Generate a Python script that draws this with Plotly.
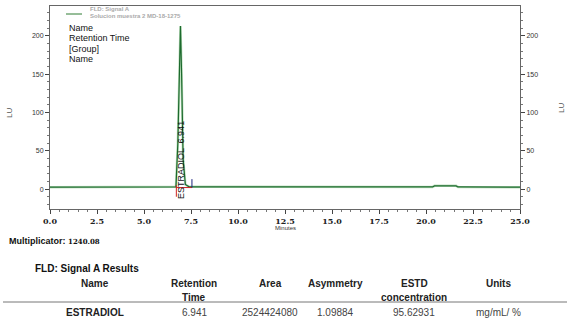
import plotly.graph_objects as go

# ---- data ----
time_min = [0.0, 6.60, 6.70, 6.80, 6.88, 6.94, 7.00, 7.08, 7.20, 7.40, 20.35, 20.45, 21.60, 21.70, 25.0]
signal_lu = [2.5, 2.5, 3.0, 60.0, 170.0, 213.0, 150.0, 40.0, 6.0, 3.0, 2.8, 4.2, 4.2, 2.8, 2.5]
peak_name = "ESTRADIOL"
peak_rt = 6.941
baseline_start, baseline_end = 6.72, 7.55
x_ticks = [0, 2.5, 5, 7.5, 10, 12.5, 15, 17.5, 20, 22.5, 25]
x_ticklabels = ["0.0", "2.5", "5.0", "7.5", "10.0", "12.5", "15.0", "17.5", "20.0", "22.5", "25.0"]
y_ticks = [0, 50, 100, 150, 200]
table_headers = [["Name"], ["Retention", "Time"], ["Area"], ["Asymmetry"], ["ESTD", "concentration"], ["Units"]]
table_row = ["ESTRADIOL", "6.941", "2524424080", "1.09884", "95.62931", "mg/mL/ %"]
multiplicator = "1240.08"

W, H = 570, 324
L, R, T, B = 50, 520, 6, 209

def px(x):
    return (x - L) / (R - L)

def py(y):
    return (B - y) / (B - T)

fig = go.Figure()
# light halo of the peak
fig.add_trace(go.Scatter(x=time_min, y=signal_lu, mode="lines",
                         line=dict(color="#bfe0bf", width=2.5), hoverinfo="skip", showlegend=False))
fig.add_trace(go.Scatter(x=time_min, y=signal_lu, mode="lines",
                         line=dict(color="#1d6a2e", width=1.2), showlegend=False))
# integration baseline & markers
fig.add_trace(go.Scatter(x=[baseline_start, baseline_end], y=[2.0, 2.0], mode="lines",
                         line=dict(color="#cc2222", width=1), showlegend=False))
fig.add_trace(go.Scatter(x=[baseline_start, baseline_start], y=[-10, 5], mode="lines",
                         line=dict(color="#cc2222", width=1), showlegend=False))
fig.add_trace(go.Scatter(x=[baseline_end, baseline_end], y=[2, 13], mode="lines",
                         line=dict(color="#1a237e", width=1), showlegend=False))
# right axis carrier
fig.add_trace(go.Scatter(x=[0], y=[0], yaxis="y2", mode="markers",
                         marker=dict(opacity=0), hoverinfo="skip", showlegend=False))

yr = [-26, 239]
axis_common = dict(range=yr, tickvals=y_ticks, ticks="outside", ticklen=4, tickcolor="#444",
                   tickfont=dict(family="Liberation Sans", size=7, color="#333"),
                   showgrid=False, zeroline=False,
                   minor=dict(dtick=10, ticks="outside", ticklen=2, tickcolor="#777"))

fig.update_layout(
    width=W, height=H, margin=dict(l=L, r=W - R, t=T, b=H - B),
    paper_bgcolor="white", plot_bgcolor="white",
    xaxis=dict(range=[0, 25], tickvals=x_ticks, ticktext=[f"<b>{t}</b>" for t in x_ticklabels],
               ticks="outside", ticklen=4, tickcolor="#444", showgrid=False, zeroline=False,
               showline=True, linecolor="#666", linewidth=1, mirror=True,
               tickfont=dict(family="DejaVu Serif", size=8, color="#222"),
               minor=dict(dtick=0.5, ticks="outside", ticklen=2, tickcolor="#777")),
    yaxis=dict(**axis_common, showline=True, linecolor="#666", linewidth=1, mirror=True),
    yaxis2=dict(**axis_common, overlaying="y", side="right", showline=False),
)

ann = []
def add(text, x, y, size=9, xanchor="center", yanchor="middle", color="#111",
        family="Liberation Sans", angle=0):
    ann.append(dict(text=text, x=px(x), y=py(y), xref="paper", yref="paper",
                    xanchor=xanchor, yanchor=yanchor, showarrow=False, textangle=angle,
                    font=dict(size=size, color=color, family=family)))

# axis titles
add("LU", 9, 113, size=8, color="#555", angle=-90)
add("LU", 561, 108, size=8, color="#555", angle=-90)
add("Minutes", 285, 228, size=6, color="#333")

# legend
fig.add_shape(type="line", xref="paper", yref="paper", x0=px(66), x1=px(82), y0=py(14), y1=py(14),
              line=dict(color="#2e7d32", width=1))
add("<b>FLD: Signal A</b>", 88, 9, size=6, xanchor="left", color="#aaa")
add("<b>Solucion muestra 2 MD-18-1275</b>", 88, 16, size=6, xanchor="left", color="#aaa")
for i, t in enumerate(["Name", "Retention Time", "[Group]", "Name"]):
    add(t, 67, 28 + i * 10.5, size=9, xanchor="left", color="#111")

# peak label
ann.append(dict(text=f"{peak_name}  {peak_rt}", x=peak_rt, y=-15, xref="x", yref="y",
                xanchor="center", yanchor="bottom", showarrow=False, textangle=-90,
                font=dict(size=9, color="#111", family="Liberation Sans")))

# report text below
add("<b>Multiplicator:</b> <span style='font-family:DejaVu Serif;font-size:7px'><b>" + multiplicator + "</b></span>",
    7, 241, size=9, xanchor="left")
add("<b>FLD: Signal A Results</b>", 33, 268, size=10, xanchor="left")

col_x = [95, 194, 270, 335, 414, 498]
for cx, hdr in zip(col_x, table_headers):
    for j, line in enumerate(hdr):
        add(f"<b>{line}</b>", cx, 283 + j * 14, size=10, color="#222")
fig.add_shape(type="line", xref="paper", yref="paper", x0=px(3), x1=px(567), y0=py(302), y1=py(302),
              line=dict(color="#777", width=1))
for k, (cx, val) in enumerate(zip(col_x, table_row)):
    add(f"<b>{val}</b>" if k == 0 else val, cx, 312, size=10, color="#222" if k == 0 else "#444")

fig.update_layout(annotations=ann)
fig.write_html("out.html", config={"displayModeBar": False},
               post_script="document.body.style.margin='0';document.body.style.overflow='hidden';")
